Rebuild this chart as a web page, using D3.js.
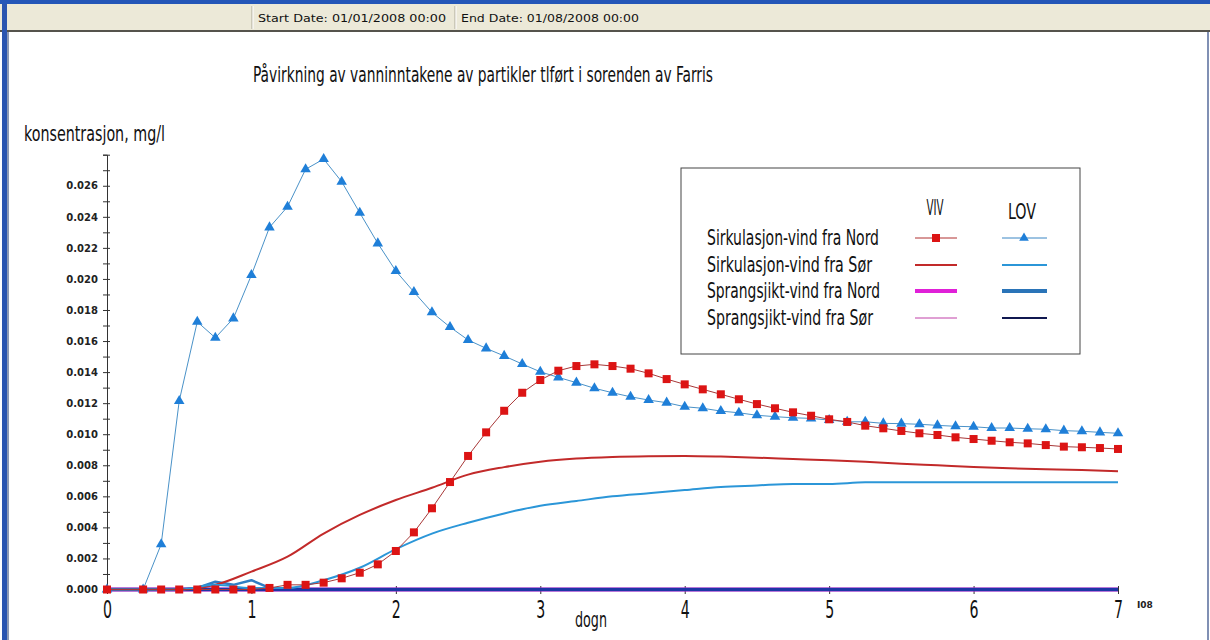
<!DOCTYPE html>
<html>
<head>
<meta charset="utf-8">
<script src="https://cdn.jsdelivr.net/npm/d3@7/dist/d3.min.js"></script>
<style>
body { margin: 0; background: #fff; }
svg { display: block; }
.cond { font-family: "Liberation Sans Narrow", "DejaVu Sans Condensed", "Roboto Condensed", sans-serif; }
</style>
</head>
<body>
<div id="chart"></div>
<script>
// tidspunkt (dogn) for seriene med markorer, hver 3. time
var days = [0, 0.25, 0.375, 0.5, 0.625, 0.75, 0.875, 1,
  1.125, 1.25, 1.375, 1.5, 1.625, 1.75, 1.875, 2,
  2.125, 2.25, 2.375, 2.5, 2.625, 2.75, 2.875, 3,
  3.125, 3.25, 3.375, 3.5, 3.625, 3.75, 3.875, 4,
  4.125, 4.25, 4.375, 4.5, 4.625, 4.75, 4.875, 5,
  5.125, 5.25, 5.375, 5.5, 5.625, 5.75, 5.875, 6,
  6.125, 6.25, 6.375, 6.5, 6.625, 6.75, 6.875, 7];

// VIV, sirkulasjon - vind fra Nord
var vivNord = [0, 0, 0, 0, 0, 0, 0, 0,
  0.0001, 0.0003, 0.0003, 0.00044, 0.00072, 0.00108, 0.00162, 0.00248,
  0.00368, 0.00523, 0.00692, 0.0086, 0.01012, 0.01151, 0.01267, 0.01349,
  0.01409, 0.01439, 0.0145, 0.01439, 0.01422, 0.01392, 0.01355, 0.01321,
  0.01289, 0.01257, 0.01225, 0.01194, 0.01167, 0.01141, 0.01119, 0.01096,
  0.01079, 0.01055, 0.01038, 0.01021, 0.01006, 0.00995, 0.0098, 0.00969,
  0.00958, 0.00948, 0.00941, 0.0093, 0.0092, 0.00916, 0.00911, 0.00905];

// LOV, sirkulasjon - vind fra Nord
var lovNord = [0, 0, 0.00291, 0.01214, 0.01724, 0.01621, 0.01746, 0.02025,
  0.02332, 0.02465, 0.02706, 0.02772, 0.02626, 0.02426, 0.02229, 0.02051,
  0.01916, 0.01785, 0.0169, 0.01607, 0.01553, 0.01504, 0.01452, 0.01402,
  0.01366, 0.01332, 0.01296, 0.01267, 0.01241, 0.0122, 0.01203, 0.01177,
  0.01167, 0.01149, 0.01138, 0.01122, 0.01113, 0.01106, 0.01102, 0.01091,
  0.0108, 0.0108, 0.0107, 0.01068, 0.01064, 0.01057, 0.01051, 0.01048,
  0.0104, 0.0104, 0.01035, 0.01032, 0.01023, 0.01019, 0.01012, 0.01006];

// LOV, sprangsjikt - vind fra Nord
var lovSprangNord = [0, 0, 0, 0, 0.0001, 0.0005, 0.0003, 0.0006,
  0.0001, 0, 0, 0, 0, 0, 0, 0,
  0, 0, 0, 0, 0, 0, 0, 0,
  0, 0, 0, 0, 0, 0, 0, 0,
  0, 0, 0, 0, 0, 0, 0, 0,
  0, 0, 0, 0, 0, 0, 0, 0,
  0, 0, 0, 0, 0, 0, 0, 0];

// glatte kurver, avlest hver 6. time
var smoothDays = [0, 0.25, 0.5, 0.75, 1, 1.25, 1.5, 1.75, 2, 2.25, 2.5, 2.75, 3, 3.25, 3.5,
  3.75, 4, 4.25, 4.5, 4.75, 5, 5.25, 5.5, 5.75, 6, 6.25, 6.5, 6.75, 7];
var vivSor = [0, 0, 0, 0.0003, 0.00115, 0.00211, 0.0036, 0.0048, 0.00576, 0.00655, 0.0074,
  0.00788, 0.00823, 0.00843, 0.00853, 0.00858, 0.0086, 0.00856, 0.00849, 0.0084, 0.00832,
  0.00822, 0.0081, 0.008, 0.00789, 0.00781, 0.00775, 0.0077, 0.00762];
var lovSor = [0, 0, 0, 0.0003, 0.0001, 0.0001, 0.0006, 0.0014, 0.0026, 0.0036, 0.0043,
  0.0049, 0.0054, 0.0057, 0.006, 0.0062, 0.0064, 0.0066, 0.0067, 0.0068, 0.0068,
  0.0069, 0.0069, 0.0069, 0.0069, 0.0069, 0.0069, 0.0069, 0.0069];
var vivSprangNord = [0, 0, 0, 0, 0, 0, 0, 0, 0, 0, 0, 0, 0, 0, 0,
  0, 0, 0, 0, 0, 0, 0, 0, 0, 0, 0, 0, 0, 0];
var vivSprangSor = [0, 0, 0, 0, 0, 0, 0, 0, 0, 0, 0, 0, 0, 0, 0,
  0, 0, 0, 0, 0, 0, 0, 0, 0, 0, 0, 0, 0, 0];
var lovSprangSor = [0, 0, 0, 0, 0, 0, 0, 0, 0, 0, 0, 0, 0, 0, 0,
  0, 0, 0, 0, 0, 0, 0, 0, 0, 0, 0, 0, 0, 0];

var xTicks = [0, 1, 2, 3, 4, 5, 6, 7];
var yLabelTicks = [0, 0.002, 0.004, 0.006, 0.008, 0.010, 0.012, 0.014, 0.016, 0.018, 0.020, 0.022, 0.024, 0.026];
var legendNames = ["Sirkulasjon-vind fra Nord", "Sirkulasjon-vind fra Sør",
  "Sprangsjikt-vind fra Nord", "Sprangsjikt-vind fra Sør"];
var legendWidths = [172, 165, 173, 166];

var W = 1210, H = 640;
var svg = d3.select("#chart").append("svg")
    .attr("width", W)
    .attr("height", H);

// vindusramme og verktoylinje
svg.append("rect").attr("x", 0).attr("y", 0).attr("width", W).attr("height", 4).attr("fill", "#2456b8");
svg.append("rect").attr("x", 0).attr("y", 4).attr("width", W).attr("height", 27).attr("fill", "#ece9d8");
svg.append("rect").attr("x", 0).attr("y", 30).attr("width", W).attr("height", 2).attr("fill", "#55534c");
svg.append("rect").attr("x", 2).attr("y", 4).attr("width", 5).attr("height", H).attr("fill", "#2a55b0");
svg.append("rect").attr("x", 7).attr("y", 32).attr("width", 2).attr("height", H).attr("fill", "#8e9ab4");
svg.append("rect").attr("x", 1207).attr("y", 32).attr("width", 2).attr("height", H).attr("fill", "#8090b4");

[252, 455].forEach(function(sx) {
    svg.append("line").attr("x1", sx).attr("x2", sx).attr("y1", 6).attr("y2", 29).attr("stroke", "#aca899");
    svg.append("line").attr("x1", sx + 1).attr("x2", sx + 1).attr("y1", 6).attr("y2", 29).attr("stroke", "#ffffff");
});
svg.append("text").attr("x", 258).attr("y", 22)
    .attr("font-family", "DejaVu Sans, sans-serif").attr("font-size", 11).attr("fill", "#111")
    .attr("textLength", 188).attr("lengthAdjust", "spacingAndGlyphs")
    .text("Start Date: 01/01/2008 00:00");
svg.append("text").attr("x", 461).attr("y", 22)
    .attr("font-family", "DejaVu Sans, sans-serif").attr("font-size", 11).attr("fill", "#111")
    .attr("textLength", 178).attr("lengthAdjust", "spacingAndGlyphs")
    .text("End Date: 01/08/2008 00:00");

// tittel
svg.append("text").attr("class", "cond")
    .attr("x", 253).attr("y", 82)
    .attr("font-size", 22).attr("fill", "#111")
    .attr("textLength", 460).attr("lengthAdjust", "spacingAndGlyphs")
    .text("Påvirkning av vanninntakene av partikler tlført i sorenden av Farris");

svg.append("text").attr("class", "cond")
    .attr("x", 24).attr("y", 141)
    .attr("font-size", 21).attr("fill", "#111")
    .attr("textLength", 141).attr("lengthAdjust", "spacingAndGlyphs")
    .text("konsentrasjon, mg/l");

var x = d3.scaleLinear().domain([0, 7]).range([107, 1118]);
var y = d3.scaleLinear().domain([0, 0.028]).range([589.5, 154.7]);

// y-akse med store og sma merker
var yAxis = svg.append("g")
    .attr("transform", "translate(107,0)")
    .call(d3.axisLeft(y)
        .tickValues(d3.range(0, 29).map(function(i) { return i / 1000; }))
        .tickSize(4)
        .tickPadding(5)
        .tickFormat(function(d) {
            var hit = yLabelTicks.some(function(t) { return Math.abs(t - d) < 1e-9; });
            return hit ? d3.format(".3f")(d) : "";
        }));
yAxis.select(".domain").attr("stroke", "#333");
yAxis.selectAll(".tick line").attr("x1", 3).attr("stroke", "#333");
yAxis.selectAll(".tick text")
    .attr("font-family", "DejaVu Sans, sans-serif")
    .attr("font-weight", "bold")
    .attr("font-size", 10)
    .attr("fill", "#222");

// x-akse
var xAxis = svg.append("g")
    .attr("transform", "translate(0,590)")
    .call(d3.axisBottom(x).tickValues(xTicks).tickSize(4).tickFormat(d3.format("d")));
xAxis.select(".domain").attr("stroke", "#333");
xAxis.selectAll(".tick line").attr("y1", -4).attr("stroke", "#333");
xAxis.selectAll(".tick text")
    .attr("class", "cond")
    .attr("y", 28).attr("dy", 0)
    .attr("font-size", 24)
    .attr("textLength", 9).attr("lengthAdjust", "spacingAndGlyphs")
    .attr("fill", "#111");

svg.append("text").attr("class", "cond")
    .attr("x", 575).attr("y", 627)
    .attr("font-size", 21).attr("fill", "#111")
    .attr("textLength", 32).attr("lengthAdjust", "spacingAndGlyphs")
    .text("dogn");
svg.append("text")
    .attr("x", 1137).attr("y", 608)
    .attr("font-family", "DejaVu Sans, sans-serif").attr("font-weight", "bold")
    .attr("font-size", 9).attr("fill", "#222")
    .text("I08");

function drawLine(xs, ys, color, width, curve) {
    var pts = xs.map(function(d, i) { return [d, ys[i]]; });
    svg.append("path")
        .datum(pts)
        .attr("fill", "none")
        .attr("stroke", color)
        .attr("stroke-width", width)
        .attr("stroke-linejoin", "round")
        .attr("d", d3.line()
            .x(function(d) { return x(d[0]); })
            .y(function(d) { return y(d[1]); })
            .curve(curve || d3.curveLinear));
}

// linjene uten markorer
drawLine(smoothDays, vivSprangNord, "#e020d8", 4);
drawLine(smoothDays, vivSprangSor, "#c040a8", 1);
drawLine(days, lovSprangNord, "#2f7ec4", 2.5);
drawLine(smoothDays, lovSprangSor, "#1d36a6", 3.5);
drawLine(smoothDays, vivSor, "#c22a2a", 2, d3.curveMonotoneX);
drawLine(smoothDays, lovSor, "#2b96d8", 2, d3.curveMonotoneX);

// LOV Nord med trekanter
drawLine(days, lovNord, "#4a92c8", 1);
svg.append("g").selectAll("path")
    .data(days)
    .enter()
    .append("path")
    .attr("transform", function(d, i) { return "translate(" + x(d) + "," + y(lovNord[i]) + ")"; })
    .attr("d", d3.symbol().type(d3.symbolTriangle).size(48))
    .attr("fill", "#1f7fd8");

// VIV Nord med firkanter
drawLine(days, vivNord, "#a83838", 1);
svg.append("g").selectAll("rect")
    .data(days)
    .enter()
    .append("rect")
    .attr("x", function(d) { return x(d) - 4; })
    .attr("y", function(d, i) { return y(vivNord[i]) - 4; })
    .attr("width", 8)
    .attr("height", 8)
    .attr("fill", "#dc1414");

// forklaring
var leg = svg.append("g");
leg.append("rect").attr("x", 681).attr("y", 168).attr("width", 399).attr("height", 186)
    .attr("fill", "#fff").attr("stroke", "#444").attr("stroke-width", 1);
leg.append("text").attr("class", "cond").attr("x", 935).attr("y", 215)
    .attr("text-anchor", "middle").attr("font-size", 21).attr("fill", "#111")
    .attr("textLength", 17).attr("lengthAdjust", "spacingAndGlyphs").text("VIV");
leg.append("text").attr("class", "cond").attr("x", 1022).attr("y", 219)
    .attr("text-anchor", "middle").attr("font-size", 21).attr("fill", "#111")
    .attr("textLength", 28).attr("lengthAdjust", "spacingAndGlyphs").text("LOV");

var rowY = [238, 265, 291, 318];
var vivStyle = [["#b03030", 1], ["#c22a2a", 2], ["#e020d8", 4], ["#c040a8", 1]];
var lovStyle = [["#3a86c4", 1], ["#2b96d8", 2], ["#2a74b8", 4], ["#101850", 2]];
legendNames.forEach(function(name, i) {
    leg.append("text").attr("class", "cond")
        .attr("x", 707).attr("y", rowY[i] + 7)
        .attr("font-size", 21).attr("fill", "#111")
        .attr("textLength", legendWidths[i]).attr("lengthAdjust", "spacingAndGlyphs")
        .text(name);
    leg.append("line").attr("x1", 915).attr("x2", 957).attr("y1", rowY[i]).attr("y2", rowY[i])
        .attr("stroke", vivStyle[i][0]).attr("stroke-width", vivStyle[i][1]);
    leg.append("line").attr("x1", 1002).attr("x2", 1047).attr("y1", rowY[i]).attr("y2", rowY[i])
        .attr("stroke", lovStyle[i][0]).attr("stroke-width", lovStyle[i][1]);
});
leg.append("rect").attr("x", 932).attr("y", rowY[0] - 4).attr("width", 8).attr("height", 8).attr("fill", "#dc1414");
leg.append("path").attr("transform", "translate(1024," + rowY[0] + ")")
    .attr("d", d3.symbol().type(d3.symbolTriangle).size(40)).attr("fill", "#1f7fd8");
</script>
</body>
</html>
